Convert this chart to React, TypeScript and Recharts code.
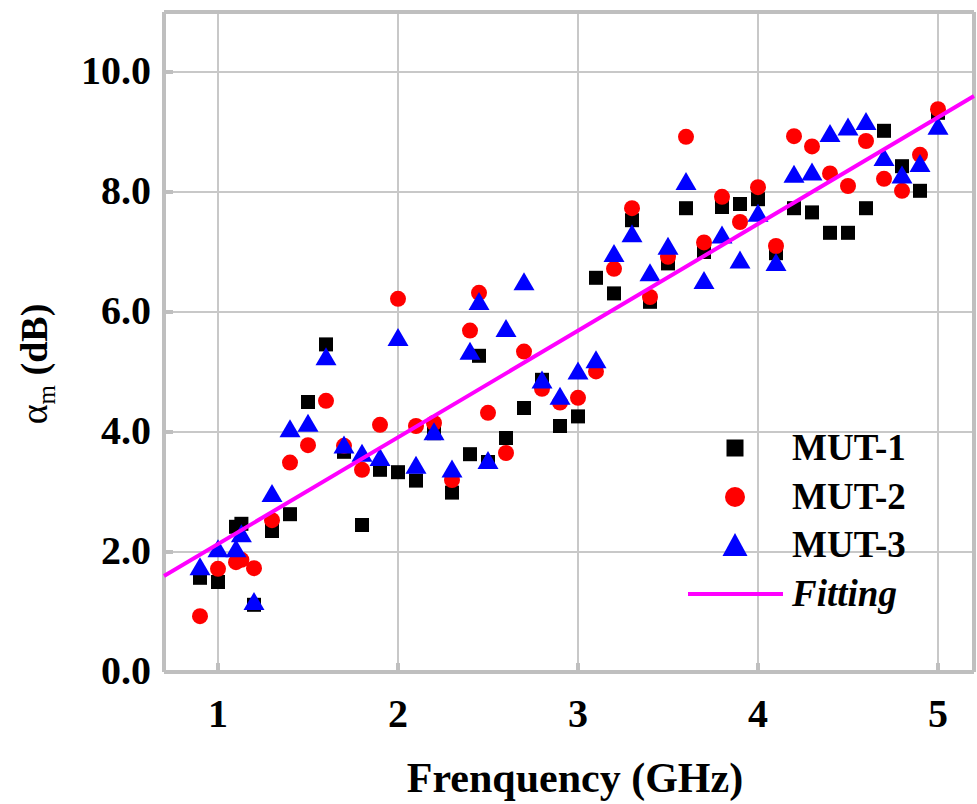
import React from "react";
import {
  ScatterChart,
  Scatter,
  XAxis,
  YAxis,
  CartesianGrid,
  Legend,
} from "recharts";

// frequency points (GHz)
const freqs = [
  0.9, 1.0, 1.1, 1.13, 1.2, 1.3, 1.4, 1.5, 1.6, 1.7, 1.8, 1.9, 2.0, 2.1, 2.2,
  2.3, 2.4, 2.45, 2.5, 2.6, 2.7, 2.8, 2.9, 3.0, 3.1, 3.2, 3.3, 3.4, 3.5, 3.6,
  3.7, 3.8, 3.9, 4.0, 4.1, 4.2, 4.3, 4.4, 4.5, 4.6, 4.7, 4.8, 4.9, 5.0,
];

const mut1 = [
  1.57, 1.5, 2.42, 2.47, 1.12, 2.35, 2.63, 4.5, 5.46, 3.67, 2.45, 3.37, 3.33,
  3.19, 3.98, 2.99, 3.63, 5.27, 3.5, 3.9, 4.4, 4.87, 4.1, 4.26, 6.57, 6.31,
  7.53, 6.17, 6.81, 7.73, 7.0, 7.75, 7.8, 7.88, 6.98, 7.73, 7.66, 7.32, 7.32,
  7.73, 9.02, 8.43, 8.02, 9.32,
];

const mut2 = [
  0.93, 1.72, 1.83, 1.87, 1.73, 2.53, 3.49, 3.78, 4.52, 3.77, 3.37, 4.12, 6.22,
  4.1, 4.15, 3.2, 5.69, 6.32, 4.32, 3.65, 5.34, 4.72, 4.49, 4.57, 5.01, 6.72,
  7.73, 6.25, 6.92, 8.92, 7.16, 7.92, 7.5, 8.08, 7.1, 8.93, 8.76, 8.31, 8.1,
  8.85, 8.22, 8.02, 8.62, 9.38,
];

const mut3 = [
  1.73, 2.03, 2.03, 2.28, 1.15, 2.95, 4.03, 4.12, 5.23, 3.76, 3.62, 3.55, 5.55,
  3.42, 3.98, 3.36, 5.32, 6.15, 3.5, 5.7, 6.48, 4.84, 4.57, 4.99, 5.18, 6.95,
  7.28, 6.63, 7.07, 8.15, 6.5, 7.26, 6.84, 7.62, 6.8, 8.27, 8.31, 8.95, 9.06,
  9.15, 8.55, 8.26, 8.45, 9.07,
];

// linear fit end points
const fitFreqs = [0.7, 5.2];
const fitValues = [1.6, 9.6];

const xTicks = [1, 2, 3, 4, 5];
const yTicks = [0, 2, 4, 6, 8, 10];
const seriesNames = ["MUT-1", "MUT-2", "MUT-3", "Fitting"];

const SERIF = '"Liberation Serif", "Times New Roman", serif';
const FRAME = "#bfbfbf";
const GRID = "#c8c8c8";

const toPoints = (xs: number[], ys: number[]) =>
  xs.map((f, i) => ({ f, v: ys[i] }));

const data1 = toPoints(freqs, mut1);
const data2 = toPoints(freqs, mut2);
const data3 = toPoints(freqs, mut3);
const fitData = toPoints(fitFreqs, fitValues);

// marker shapes, placed at the cx/cy recharts hands in
const SquareMark = ({ cx, cy }: any) => (
  <rect x={cx - 7} y={cy - 7} width={14} height={14} fill="#000000" />
);
const CircleMark = ({ cx, cy }: any) => (
  <circle cx={cx} cy={cy} r={8} fill="#ff0000" />
);
const TriangleMark = ({ cx, cy }: any) => (
  <polygon
    points={`${cx},${cy - 11} ${cx - 10.5},${cy + 7} ${cx + 10.5},${cy + 7}`}
    fill="#0000ff"
  />
);

const XTick = ({ x, y, payload }: any) => (
  <g>
    <line x1={x} y1={y} x2={x} y2={y - 9} stroke={FRAME} strokeWidth={4} />
    <text
      x={x}
      y={y + 55}
      textAnchor="middle"
      fontFamily={SERIF}
      fontWeight="bold"
      fontSize={40}
      fill="#000"
    >
      {payload.value}
    </text>
  </g>
);

const YTick = ({ x, y, payload }: any) => (
  <g>
    <line x1={x} y1={y} x2={x + 9} y2={y} stroke={FRAME} strokeWidth={4} />
    <text
      x={x - 13}
      y={y + 12}
      textAnchor="end"
      fontFamily={SERIF}
      fontWeight="bold"
      fontSize={40}
      fill="#000"
    >
      {payload.value.toFixed(1)}
    </text>
  </g>
);

const YTitle = ({ viewBox }: any) => {
  const cx = viewBox.x + 47;
  const cy = viewBox.y + viewBox.height / 2 + 22;
  return (
    <text
      transform={`rotate(-90, ${cx}, ${cy})`}
      x={cx}
      y={cy}
      textAnchor="middle"
      fontFamily={SERIF}
      fontSize={38}
      fill="#000"
    >
      <tspan>α</tspan>
      <tspan fontSize={25} dy={8}>
        m
      </tspan>
      <tspan dy={-8} fontWeight="bold">
        {" (dB)"}
      </tspan>
    </text>
  );
};

const XTitle = ({ viewBox }: any) => (
  <text
    x={viewBox.x + viewBox.width / 2 + 6}
    y={viewBox.y + 120}
    textAnchor="middle"
    fontFamily={SERIF}
    fontWeight="bold"
    fontSize={42}
    fill="#000"
  >
    Frenquency (GHz)
  </text>
);

const legendIcon = (i: number) => {
  if (i === 0) return <rect x={38.5} y={15.5} width={17} height={17} fill="#000" />;
  if (i === 1) return <circle cx={47} cy={24} r={10} fill="#ff0000" />;
  if (i === 2) return <polygon points="47,12 34.5,35 59.5,35" fill="#0000ff" />;
  return <line x1={0} y1={24} x2={95} y2={24} stroke="#ff00ff" strokeWidth={4} />;
};

const LegendBox = () => (
  <div style={{ fontFamily: SERIF, fontWeight: "bold", fontSize: 37 }}>
    {seriesNames.map((name, i) => (
      <div
        key={name}
        style={{ display: "flex", alignItems: "center", height: 48.5 }}
      >
        <svg width={104} height={48} style={{ display: "block" }}>
          {legendIcon(i)}
        </svg>
        <span style={{ fontStyle: i === 3 ? "italic" : "normal", lineHeight: "48px" }}>
          {name}
        </span>
      </div>
    ))}
  </div>
);

export default function App() {
  return (
    <div style={{ position: "absolute", left: 0, top: 0, background: "#fff" }}>
      <ScatterChart
        width={977}
        height={804}
        margin={{ top: 12, right: 3, bottom: 0, left: 0 }}
      >
        <CartesianGrid stroke={GRID} strokeWidth={2} />
        <XAxis
          dataKey="f"
          type="number"
          domain={[0.7, 5.2]}
          ticks={xTicks}
          interval={0}
          height={132}
          tickSize={0}
          tickMargin={0}
          tickLine={false}
          tick={<XTick />}
          axisLine={{ stroke: FRAME, strokeWidth: 4 }}
          label={{ content: <XTitle /> }}
        />
        <YAxis
          dataKey="v"
          type="number"
          domain={[0, 11]}
          ticks={yTicks}
          interval={0}
          width={164}
          tickSize={0}
          tickMargin={0}
          tickLine={false}
          tick={<YTick />}
          axisLine={{ stroke: FRAME, strokeWidth: 4 }}
          label={{ content: <YTitle /> }}
        />
        <XAxis
          xAxisId="top"
          orientation="top"
          type="number"
          domain={[0.7, 5.2]}
          ticks={xTicks}
          mirror
          tick={false}
          tickSize={8}
          tickLine={{ stroke: FRAME, strokeWidth: 3 }}
          axisLine={{ stroke: FRAME, strokeWidth: 4 }}
        />
        <YAxis
          yAxisId="right"
          orientation="right"
          type="number"
          domain={[0, 11]}
          ticks={yTicks}
          mirror
          tick={false}
          tickSize={8}
          tickLine={{ stroke: FRAME, strokeWidth: 3 }}
          axisLine={{ stroke: FRAME, strokeWidth: 4 }}
        />
        <Legend
          content={<LegendBox />}
          layout="vertical"
          align="center"
          verticalAlign="middle"
          wrapperStyle={{ left: 688, top: 424, width: 280 }}
        />
        <Scatter
          name="MUT-1"
          data={data1}
          shape={<SquareMark />}
          fill="#000000"
          isAnimationActive={false}
        />
        <Scatter
          name="MUT-2"
          data={data2}
          shape={<CircleMark />}
          fill="#ff0000"
          isAnimationActive={false}
        />
        <Scatter
          name="MUT-3"
          data={data3}
          shape={<TriangleMark />}
          fill="#0000ff"
          isAnimationActive={false}
        />
        <Scatter
          name="Fitting"
          data={fitData}
          fill="#ff00ff"
          line={{ stroke: "#ff00ff", strokeWidth: 4 }}
          shape={() => <g />}
          isAnimationActive={false}
        />
      </ScatterChart>
    </div>
  );
}
